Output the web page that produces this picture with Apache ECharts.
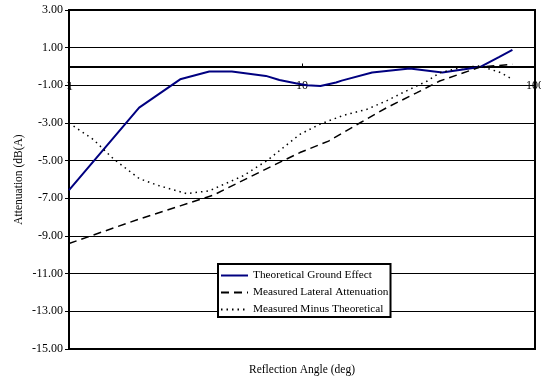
<!DOCTYPE html>
<html>
<head>
<meta charset="utf-8">
<script src="https://cdn.jsdelivr.net/npm/echarts@6/dist/echarts.min.js"></script>
<style>
html,body{margin:0;padding:0;background:#fff;}
#c{width:541px;height:378px;}
</style>
</head>
<body>
<div id="c"></div>
<script>
// Reflection angle (deg) and attenuation (dB(A)) per series
const groundAngle = [1, 2, 3, 4, 5, 7, 8, 9.5, 10.5, 12, 14, 14.8, 20, 29, 40, 58, 70, 80];
const groundVal   = [-6.56, -2.18, -0.68, -0.27, -0.27, -0.5, -0.72, -0.9, -1.0, -1.03, -0.85, -0.75, -0.32, -0.1, -0.32, -0.03, 0.5, 0.88];

const lateralAngle = [1, 2, 3, 4.15, 6.6, 9.8, 13, 17.7, 23, 31, 39, 58, 80];
const lateralVal   = [-9.4, -8.1, -7.4, -6.84, -5.6, -4.57, -3.96, -3.0, -2.2, -1.4, -0.77, -0.03, 0.12];

const minusAngle = [1, 1.27, 1.55, 2, 2.39, 3.2, 4, 5.6, 7.07, 9.8, 11.9, 15, 19, 23, 28, 34.5, 39, 48, 58, 71, 80];
const minusVal   = [-3.0, -3.87, -4.9, -5.95, -6.3, -6.75, -6.6, -5.8, -5.0, -3.6, -3.07, -2.6, -2.27, -1.83, -1.3, -0.77, -0.33, -0.06, 0.03, -0.32, -0.68];

const seriesNames = ['Theoretical Ground Effect', 'Measured Lateral Attenuation', 'Measured Minus Theoretical'];
const xTitle = 'Reflection Angle (deg)';
const yTitle = 'Attenuation (dB(A)';
const xMinLabel = '1';

const yMin = -15, yMax = 3, yStep = 2;

function pairs(xs, ys) { return xs.map((x, i) => [x, ys[i]]); }

const FONT = '"Liberation Serif", "Times New Roman", serif';
const W = 541, H = 378;
const G = { left: 69, right: 6, top: 10, bottom: 29 };
const plotH = H - G.top - G.bottom;
// move the x axis (line, ticks, labels) up to where y = 0
const zeroOffset = -plotH * (0 - yMin) / (yMax - yMin);
const LABEL_MARGIN = 13;

const chart = echarts.init(document.getElementById('c'));
chart.setOption({
  animation: false,
  backgroundColor: '#fff',
  grid: Object.assign({ show: true, borderColor: '#000', borderWidth: 2, backgroundColor: 'transparent', containLabel: false, outerBoundsMode: 'none' }, G),
  xAxis: {
    type: 'log', logBase: 10, min: 1, max: 100,
    position: 'bottom', offset: zeroOffset,
    axisLine: { onZero: false, lineStyle: { color: '#000', width: 2 } },
    axisTick: { show: true, inside: true, length: 3, lineStyle: { color: '#000' } },
    minorTick: { show: false },
    axisLabel: { color: '#000', fontFamily: FONT, fontSize: 12, margin: LABEL_MARGIN, hideOverlap: false, showMinLabel: true, showMaxLabel: true },
    splitLine: { show: false }
  },
  yAxis: {
    type: 'value', min: yMin, max: yMax, interval: yStep,
    name: yTitle, nameLocation: 'middle', nameRotate: 90, nameGap: 44, nameMoveOverlap: false,
    nameTextStyle: { color: '#000', fontFamily: FONT, fontSize: 11.5 },
    axisLine: { show: true, lineStyle: { color: '#000', width: 2 } },
    axisTick: { show: true, inside: false, length: 4, lineStyle: { color: '#000' } },
    axisLabel: { color: '#000', fontFamily: FONT, fontSize: 12, margin: 6, formatter: v => v.toFixed(2) },
    splitLine: { show: true, lineStyle: { color: '#000', width: 1 } }
  },
  legend: {
    orient: 'vertical', left: 218, top: 264,
    backgroundColor: '#fff', borderColor: '#000', borderWidth: 2,
    padding: [6, 2, 2, 2], itemWidth: 27, itemHeight: 12, itemGap: 6,
    itemStyle: { opacity: 0 },
    textStyle: { color: '#000', fontFamily: FONT, fontSize: 11.3 },
    data: seriesNames
  },
  series: [
    { name: seriesNames[0], type: 'line', symbol: 'none', showSymbol: false, data: pairs(groundAngle, groundVal),
      lineStyle: { color: '#000080', width: 2 }, itemStyle: { color: '#000080' } },
    { name: seriesNames[1], type: 'line', symbol: 'none', showSymbol: false, data: pairs(lateralAngle, lateralVal),
      lineStyle: { color: '#000', width: 1.5, type: [8, 5] }, itemStyle: { color: '#000' } },
    { name: seriesNames[2], type: 'line', symbol: 'none', showSymbol: false, data: pairs(minusAngle, minusVal),
      lineStyle: { color: '#000', width: 1.5, type: [1.5, 4] }, itemStyle: { color: '#000' } }
  ]
});

// The x-axis minimum label ("1") is suppressed by the library next to the y axis; place it at the axis' own pixel for x = 1, y = 0
const p = chart.convertToPixel({ xAxisIndex: 0, yAxisIndex: 0 }, [1, 0]);
chart.setOption({
  graphic: [{
    type: 'text', x: 302, y: 370,
    style: { text: xTitle, fill: '#000', font: '11.5px ' + FONT, textAlign: 'center', textVerticalAlign: 'middle' }
  }, {
    type: 'text', x: p[0] + 1, y: p[1] + LABEL_MARGIN + 1,
    style: { text: xMinLabel, fill: '#000', font: '12px ' + FONT, textAlign: 'center', textVerticalAlign: 'top' }
  }]
});
</script>
</body>
</html>
